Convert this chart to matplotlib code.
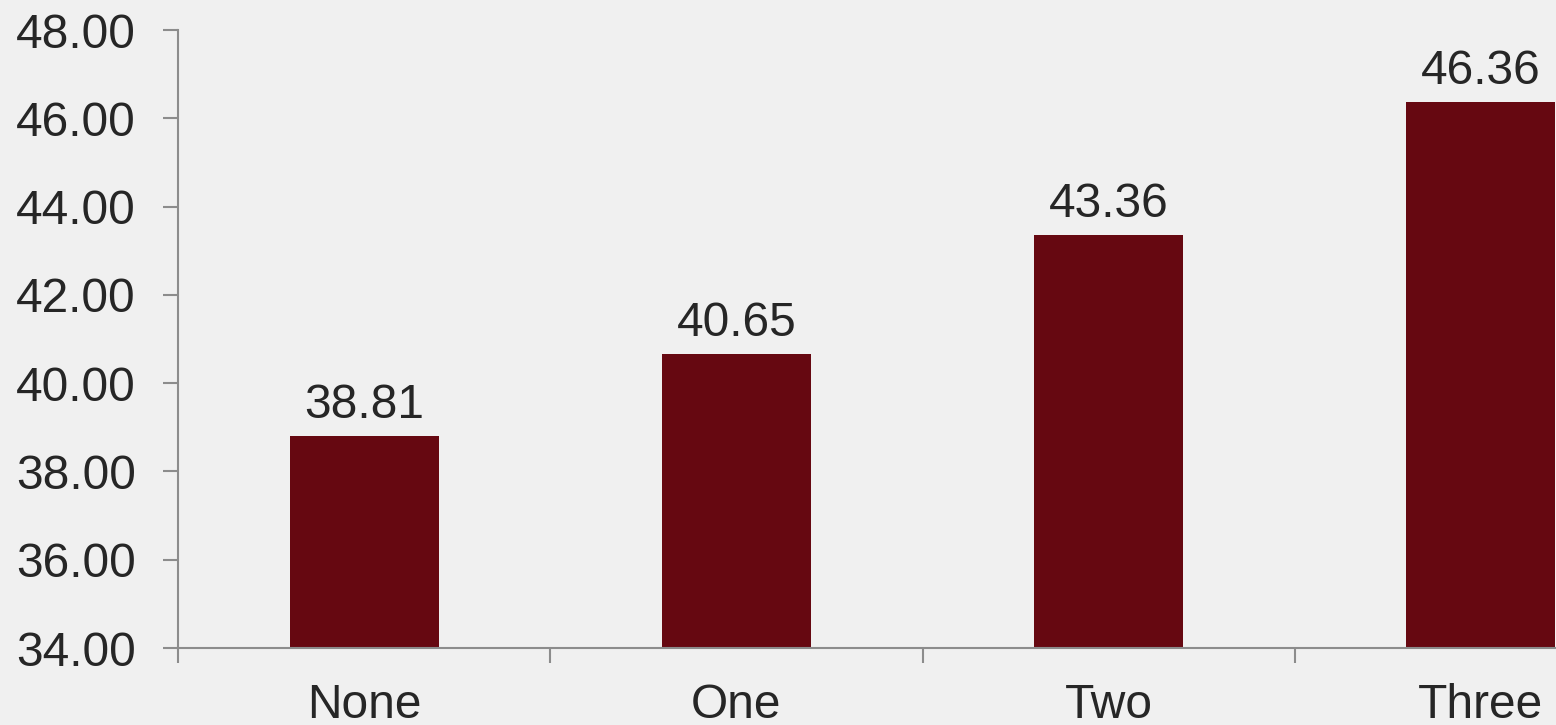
import numpy as np
import matplotlib.pyplot as plt

plt.rcParams['font.family'] = ['Liberation Sans', 'DejaVu Sans']

categories = ['None', 'One', 'Two', 'Three']
values = [38.81, 40.65, 43.36, 46.36]
yticks = [34, 36, 38, 40, 42, 44, 46, 48]

bg = '#f0f0f0'
bar_color = '#660811'
axis_color = '#8c8c8c'
text_color = '#262626'
fs = 34.5

fig = plt.figure(figsize=(15.56, 7.25), dpi=100, facecolor=bg)
# axes runs past the right edge of the figure, the last category is cut off
ax = fig.add_axes([178/1556, 77/725, 1489/1556, 618/725], facecolor=bg)

x = np.arange(len(categories))
bars = ax.bar(x, values, width=0.4, color=bar_color, zorder=2)

for xi, v in zip(x, values):
    ax.annotate(f'{v:.2f}', (xi, v), xytext=(0, 13), textcoords='offset points',
                ha='center', va='baseline', fontsize=fs, color=text_color)

ax.set_xlim(-0.5, 3.5)
ax.set_ylim(34, 48)
ax.set_yticks(yticks)
ax.set_yticklabels([f'{t:.2f}' for t in yticks])

# ticks at the category boundaries, labels in the middle
ax.set_xticks(np.arange(-0.5, 4, 1))
ax.set_xticklabels([])
ax.set_xticks(x, minor=True)
ax.set_xticklabels(categories, minor=True)
ax.tick_params(axis='x', which='minor', length=0, pad=25, labelsize=fs, labelcolor=text_color)
ax.tick_params(axis='x', which='major', length=10.5, width=1.5, color=axis_color)
ax.tick_params(axis='y', length=10.5, width=1.5, color=axis_color, pad=20,
               labelsize=fs, labelcolor=text_color)

for s in ['top', 'right']:
    ax.spines[s].set_visible(False)
for s in ['left', 'bottom']:
    ax.spines[s].set_color(axis_color)
    ax.spines[s].set_linewidth(1.5)

plt.savefig('out.png', dpi=100, facecolor=bg)
